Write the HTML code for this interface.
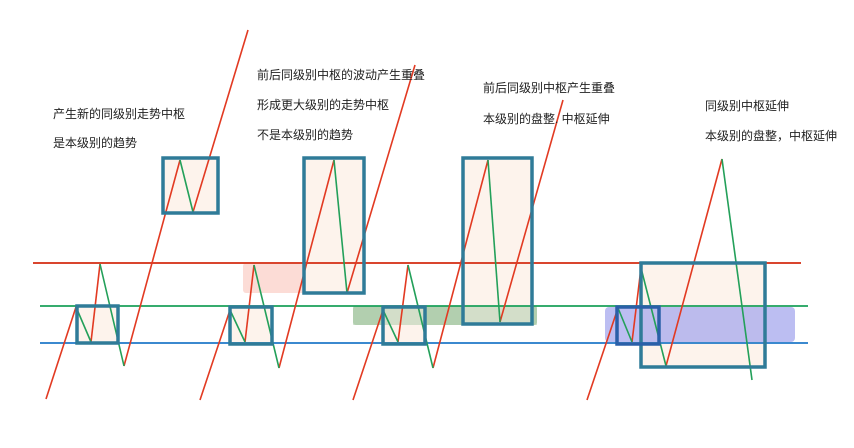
<!DOCTYPE html>
<html><head><meta charset="utf-8"><style>
body{margin:0;background:#fff;}
svg{display:block;}
text{font-family:"Liberation Sans","Noto Sans CJK SC",sans-serif;font-size:12px;fill:#222;}
</style></head><body>
<svg width="854" height="448" viewBox="0 0 854 448" xmlns="http://www.w3.org/2000/svg">
<!-- shaded zones -->
<rect x="243" y="263" width="62" height="30" rx="3" fill="#fbd3cc" opacity="0.8"/>
<rect x="353" y="306" width="184" height="19" rx="3" fill="#a9c9a6" opacity="0.8"/>
<!-- box fills -->
<g fill="#fdf3ec">
<rect x="77" y="306" width="41" height="37"/>
<rect x="163" y="158" width="55" height="55"/>
<rect x="230" y="307" width="42" height="37"/>
<rect x="304" y="158" width="60" height="135"/>
<rect x="383" y="307" width="42" height="37"/>
<rect x="463" y="158" width="69" height="166"/>
<rect x="641" y="263" width="124" height="104"/>
</g>
<rect x="353" y="306" width="184" height="19" fill="#a9c9a6" opacity="0.5"/>
<rect x="605" y="307" width="190" height="35" rx="4" fill="#a6a8ee" opacity="0.75"/>
<!-- horizontal lines -->
<line x1="33" y1="263" x2="801" y2="263" stroke="#d9452e" stroke-width="2"/>
<line x1="40" y1="306" x2="808" y2="306" stroke="#1aa05a" stroke-width="1.8"/>
<line x1="40" y1="343" x2="808" y2="343" stroke="#1f78c8" stroke-width="1.8"/>
<!-- red segments -->
<g stroke="#e23a22" stroke-width="1.6" fill="none">
<line x1="46" y1="399" x2="76" y2="307"/>
<line x1="91" y1="342" x2="100" y2="264"/>
<line x1="124" y1="366" x2="180" y2="160"/>
<line x1="193" y1="212" x2="248" y2="30"/>
<line x1="200" y1="400" x2="230" y2="310"/>
<line x1="245" y1="342" x2="254" y2="265"/>
<line x1="279" y1="368" x2="334" y2="160"/>
<line x1="347" y1="293" x2="415" y2="65"/>
<line x1="353" y1="400" x2="383" y2="310"/>
<line x1="398" y1="342" x2="408" y2="265"/>
<line x1="433" y1="368" x2="488" y2="160"/>
<line x1="500" y1="322" x2="563" y2="100"/>
<line x1="587" y1="400" x2="618" y2="308"/>
<line x1="632" y1="342" x2="641" y2="268"/>
<line x1="666" y1="366" x2="722" y2="159"/>
</g>
<!-- green segments -->
<g stroke="#23a05a" stroke-width="1.6" fill="none">
<line x1="76" y1="307" x2="91" y2="342"/>
<line x1="100" y1="264" x2="124" y2="366"/>
<line x1="180" y1="160" x2="193" y2="212"/>
<line x1="230" y1="310" x2="245" y2="342"/>
<line x1="254" y1="265" x2="279" y2="368"/>
<line x1="334" y1="160" x2="347" y2="293"/>
<line x1="383" y1="310" x2="398" y2="342"/>
<line x1="408" y1="265" x2="433" y2="368"/>
<line x1="488" y1="160" x2="500" y2="322"/>
<line x1="618" y1="308" x2="632" y2="342"/>
<line x1="641" y1="268" x2="666" y2="366"/>
<line x1="722" y1="159" x2="752" y2="380"/>
</g>
<!-- box outlines -->
<g fill="none" stroke="#2f7b98" stroke-width="3.5">
<rect x="77" y="306" width="41" height="37"/>
<rect x="163" y="158" width="55" height="55"/>
<rect x="230" y="307" width="42" height="37"/>
<rect x="304" y="158" width="60" height="135"/>
<rect x="383" y="307" width="42" height="37"/>
<rect x="463" y="158" width="69" height="166"/>
<rect x="641" y="263" width="124" height="104"/>
</g>
<rect x="617" y="307" width="42" height="37" fill="none" stroke="#2a5fa8" stroke-width="3.5"/>
<!-- text -->
<text x="53" y="118">产生新的同级别走势中枢</text>
<text x="53" y="147">是本级别的趋势</text>
<text x="257" y="79">前后同级别中枢的波动产生重叠</text>
<text x="257" y="109">形成更大级别的走势中枢</text>
<text x="257" y="139">不是本级别的趋势</text>
<text x="483" y="92">前后同级别中枢产生重叠</text>
<text x="483" y="123">本级别的盘整. 中枢延伸</text>
<text x="705" y="110">同级别中枢延伸</text>
<text x="705" y="140">本级别的盘整，中枢延伸</text>
</svg>
</body></html>
